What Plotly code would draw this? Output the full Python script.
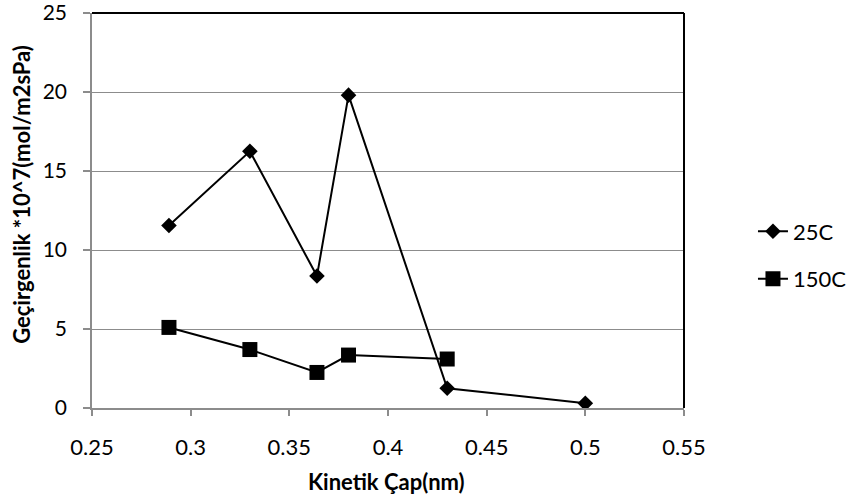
import plotly.graph_objects as go

x_25 = [0.289, 0.33, 0.364, 0.38, 0.43, 0.5]
y_25 = [11.55, 16.25, 8.35, 19.8, 1.25, 0.3]
x_150 = [0.289, 0.33, 0.364, 0.38, 0.43]
y_150 = [5.1, 3.7, 2.25, 3.35, 3.1]
x_ticks = [0.25, 0.3, 0.35, 0.4, 0.45, 0.5, 0.55]
x_ticklabels = ["0.25", "0.3", "0.35", "0.4", "0.45", "0.5", "0.55"]
y_ticks = [0, 5, 10, 15, 20, 25]

FONT = "Lato"
fig = go.Figure()
fig.add_trace(go.Scatter(x=x_25, y=y_25, name="25C", mode="lines+markers", legendgroup="a",
                         line=dict(color="black", width=2),
                         marker=dict(symbol="diamond", size=12, color="black")))
fig.add_trace(go.Scatter(x=x_150, y=y_150, name="150C", mode="lines+markers", legendgroup="b",
                         line=dict(color="black", width=2),
                         marker=dict(symbol="square", size=15, color="black")))

grid = "#8c8c8c"
fig.update_layout(
    width=854, height=498,
    margin=dict(l=92, r=170, t=13, b=90, autoexpand=False),
    paper_bgcolor="white", plot_bgcolor="white",
    font=dict(family=FONT, size=22, color="black"),
    showlegend=True,
    legend=dict(xref="container", yref="container", x=0.8817, y=0.487,
                xanchor="left", yanchor="middle",
                font=dict(family=FONT, size=22), traceorder="grouped", tracegroupgap=16,
                bgcolor="rgba(0,0,0,0)"),
    xaxis=dict(range=[0.25, 0.55], tickvals=x_ticks, ticktext=x_ticklabels, automargin=False,
               showgrid=False, zeroline=False, showline=True, linecolor=grid, linewidth=1.5,
               ticks="outside", ticklen=6, tickcolor=grid, tickwidth=1.5,
               ticklabelstandoff=13, ticklabeloverflow="allow"),
    yaxis=dict(range=[0, 25], tickvals=y_ticks, automargin=False,
               tickfont=dict(family=FONT, size=21),
               showgrid=True, gridcolor=grid, gridwidth=1, zeroline=False,
               showline=True, linecolor=grid, linewidth=1.5,
               ticks="outside", ticklen=7, tickcolor=grid, tickwidth=1.5,
               ticklabelstandoff=12, ticklabeloverflow="allow"),
    annotations=[
        dict(text="<b>Kinetik Çap(nm)</b>", xref="paper", yref="paper", x=0.497, y=-0.186,
             xanchor="center", yanchor="middle", showarrow=False, font=dict(family=FONT, size=22)),
        dict(text="<b>Geçirgenlik *10^7(mol/m2sPa)</b>", xref="paper", yref="paper", x=-0.118, y=0.54,
             xanchor="center", yanchor="middle", textangle=-90, showarrow=False,
             font=dict(family=FONT, size=22)),
    ],
)
fig.add_shape(type="line", xref="paper", yref="paper", x0=0, x1=1, y0=1, y1=1,
              line=dict(color="black", width=2))
fig.add_shape(type="line", xref="paper", yref="paper", x0=1, x1=1, y0=0, y1=1,
              line=dict(color="black", width=2))
fig.write_html("out.html")
